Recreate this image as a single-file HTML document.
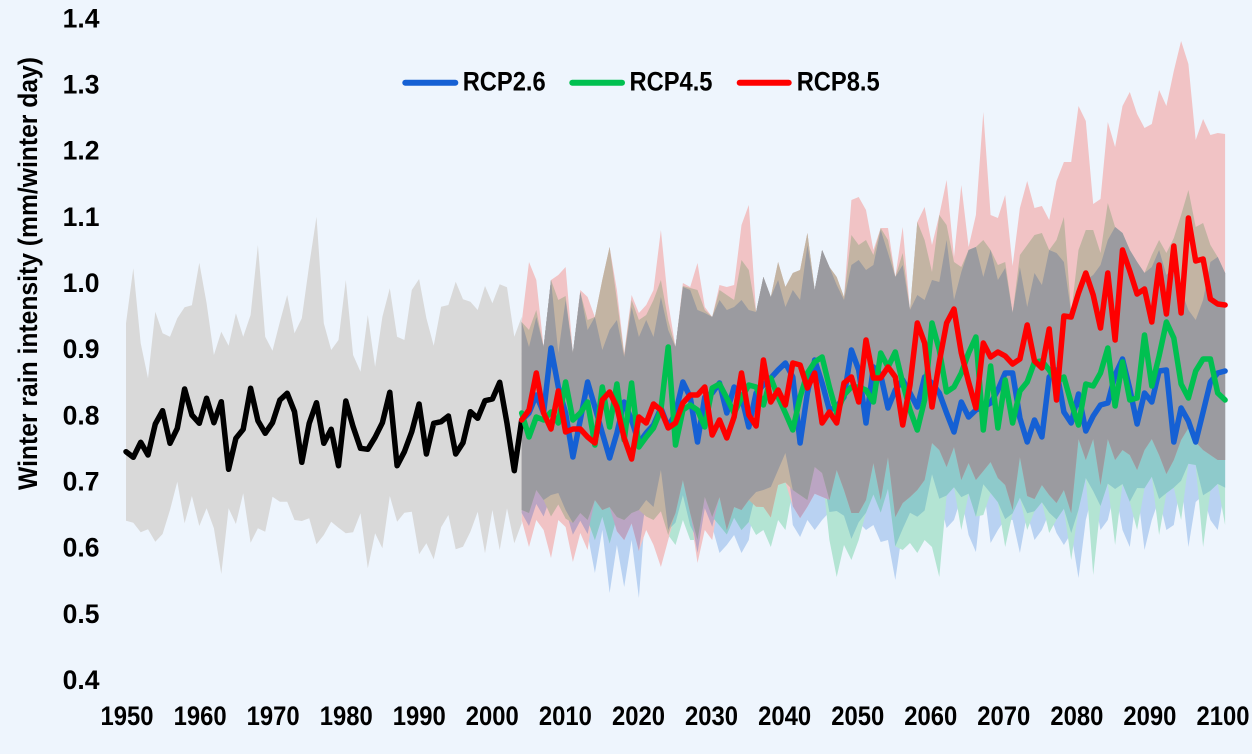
<!DOCTYPE html>
<html>
<head>
<meta charset="utf-8">
<style>
html,body{margin:0;padding:0;background:#eef5fd;overflow:hidden;}
svg{display:block;}
text{font-family:"Liberation Sans",Arial,sans-serif;font-weight:bold;fill:#000;}
</style>
</head>
<body>
<svg id="chart" width="1252" height="754" viewBox="0 0 1252 754" xmlns="http://www.w3.org/2000/svg">
<rect x="0" y="0" width="1252" height="754" fill="#eef5fd"/>
<g id="data"></g>

<!-- legend -->
<line x1="405.3" y1="82.7" x2="455.3" y2="82.7" stroke="#1560d4" stroke-width="6" stroke-linecap="round"/>
<text x="462.7" y="90.7" font-size="26.5" textLength="83" lengthAdjust="spacingAndGlyphs">RCP2.6</text>
<line x1="572.3" y1="82.7" x2="622" y2="82.7" stroke="#00c050" stroke-width="6" stroke-linecap="round"/>
<text x="629.5" y="90.7" font-size="26.5" textLength="83" lengthAdjust="spacingAndGlyphs">RCP4.5</text>
<line x1="739.7" y1="82.7" x2="788.7" y2="82.7" stroke="#ff0000" stroke-width="6" stroke-linecap="round"/>
<text x="796.7" y="90.7" font-size="26.5" textLength="83" lengthAdjust="spacingAndGlyphs">RCP8.5</text>

<!-- y tick labels -->
<g font-size="26.5" text-anchor="end">
<text x="99.5" y="27.4">1.4</text>
<text x="99.5" y="93.5">1.3</text>
<text x="99.5" y="159.7">1.2</text>
<text x="99.5" y="225.8">1.1</text>
<text x="99.5" y="292">1.0</text>
<text x="99.5" y="358.2">0.9</text>
<text x="99.5" y="424.3">0.8</text>
<text x="99.5" y="490.5">0.7</text>
<text x="99.5" y="556.6">0.6</text>
<text x="99.5" y="622.8">0.5</text>
<text x="99.5" y="689">0.4</text>
</g>

<!-- x tick labels -->
<g font-size="26.5">
<text x="100.5" y="725" textLength="53" lengthAdjust="spacingAndGlyphs">1950</text>
<text x="173.6" y="725" textLength="53" lengthAdjust="spacingAndGlyphs">1960</text>
<text x="246.6" y="725" textLength="53" lengthAdjust="spacingAndGlyphs">1970</text>
<text x="319.7" y="725" textLength="53" lengthAdjust="spacingAndGlyphs">1980</text>
<text x="392.8" y="725" textLength="53" lengthAdjust="spacingAndGlyphs">1990</text>
<text x="465.8" y="725" textLength="53" lengthAdjust="spacingAndGlyphs">2000</text>
<text x="538.9" y="725" textLength="53" lengthAdjust="spacingAndGlyphs">2010</text>
<text x="612" y="725" textLength="53" lengthAdjust="spacingAndGlyphs">2020</text>
<text x="685" y="725" textLength="53" lengthAdjust="spacingAndGlyphs">2030</text>
<text x="758.1" y="725" textLength="53" lengthAdjust="spacingAndGlyphs">2040</text>
<text x="831.2" y="725" textLength="53" lengthAdjust="spacingAndGlyphs">2050</text>
<text x="904.2" y="725" textLength="53" lengthAdjust="spacingAndGlyphs">2060</text>
<text x="977.3" y="725" textLength="53" lengthAdjust="spacingAndGlyphs">2070</text>
<text x="1050.4" y="725" textLength="53" lengthAdjust="spacingAndGlyphs">2080</text>
<text x="1123.4" y="725" textLength="53" lengthAdjust="spacingAndGlyphs">2090</text>
<text x="1196.5" y="725" textLength="53" lengthAdjust="spacingAndGlyphs">2100</text>
</g>

<!-- y axis title -->
<text transform="translate(37,273.5) rotate(-90)" font-size="27" text-anchor="middle" textLength="433" lengthAdjust="spacingAndGlyphs">Winter rain intensity (mm/winter day)</text>
</svg>

<script>
(function(){
var NS="http://www.w3.org/2000/svg";
var g=document.getElementById("data");
function add(tag,attrs){var e=document.createElementNS(NS,tag);for(var k in attrs){e.setAttribute(k,attrs[k]);}g.appendChild(e);return e;}
var X0=126,DX=7.327;
function xf(yr){return X0+(yr-1950)*DX;}
function f1(v){return Math.round(v*10)/10;}

/* ---------- historic band & line ---------- */
var hu=[370,205,430,535,335,400,410,355,322,316,188,310,465,395,437,340,410,345,135,410,452,365,285,400,355,195,50,370,450,420,240,465,515,345,500,350,265,410,420,270,237,355,437,320,315,245,298,305,330,258,310,253,262,410,350];
var hl=[962,968,997,988,1025,1002,930,845,970,888,978,925,985,1122,925,972,880,1028,985,995,890,905,905,960,963,955,1033,1005,965,983,1000,997,940,1105,1000,1045,888,965,938,935,1063,1030,1078,982,945,1048,1040,995,935,1060,930,1050,925,1030,970];
var hb=[451.7,457.3,442.3,455,424,410.7,443.3,428.3,389,415,423.3,398.3,422.7,401.7,469.3,438.3,429.3,388.3,420.7,433.3,422.7,400,393.3,411.7,462.3,423.3,402.7,443.3,429.3,465.7,401,426.7,448.3,449.3,437.3,422.7,392.3,465.7,451.7,431.7,404,454,423.3,421.7,416,454,442.7,411.7,418.3,400.7,399,382.3,423.3,470.7,420];
var p=[],i;
for(i=0;i<hu.length;i++)p.push(f1(xf(1950+i))+","+f1(200+hu[i]/3));
for(i=hl.length-1;i>=0;i--)p.push(f1(xf(1950+i))+","+f1(200+hl[i]/3));
add("polygon",{points:p.join(" "),fill:"#d9d9d9"});

/* ---------- projections ---------- */
var redLine=[420,410,373,413,429,391,432,429,429,437,443,400,392,407,438,459,417,423,404,410,428,423,403,395,395,387,435,420,438,417,373,415,426,360,402,390,405,363,365,388,373,423,412,423,383,377,402,340,378,378,367,377,425,385,323,343,407,362,323,309,353,382,408,343,357,352,356,364,359,325,361,368,329,400,316,317,293,273,295,328,273,340,250,271,294,289,322,265,314,246,313,218,261,259,299,304,305];
var blueLine=[420,413,395,413,348,387,413,457,420,382,407,433,458,433,402,420,443,433,425,408,427,413,382,397,442,397,393,383,413,387,397,427,393,385,378,370,363,377,443,393,360,383,410,407,397,350,370,423,367,375,408,390,380,393,407,377,383,393,413,432,402,417,410,407,403,390,373,373,418,442,420,437,377,370,412,423,394,431,416,405,403,375,359,389,424,393,402,371,370,442,408,421,442,412,382,373,371];
var greenLine=[413,437,417,420,412,423,382,420,413,402,445,387,427,384,440,383,447,437,428,410,347,445,410,405,410,427,388,384,398,413,398,385,387,405,378,397,413,430,397,373,362,357,387,413,395,387,387,390,402,353,367,352,383,410,430,400,323,350,392,387,373,353,337,430,366,428,380,423,391,382,362,361,370,382,377,403,425,384,386,373,348,406,362,400,398,335,386,356,322,338,384,398,371,359,359,393,400];
var redHi=[322,262,280,347,280,275,267,353,290,297,317,280,247,290,353,295,313,305,290,230,303,347,283,287,263,307,317,285,287,285,225,205,312,277,297,262,287,273,270,233,290,250,267,277,297,200,197,210,250,228,228,277,227,310,222,207,245,215,180,257,185,247,215,112,215,218,195,266,208,181,208,206,220,181,162,162,106,121,204,199,122,147,106,92,114,128,124,90,106,71,41,64,140,119,135,133,134];
var greenHi=[322,330,310,347,280,300,296,350,292,320,310,270,247,300,355,300,320,315,300,280,320,347,286,288,290,310,316,290,295,300,260,270,300,265,290,262,287,270,268,233,275,250,263,275,290,235,245,240,255,
228,240,265,253,227,207,240,272,212,225,262,267,250,247,240,250,265,262,313,255,245,235,233,250,240,217,313,250,230,230,253,203,227,233,250,262,273,255,240,253,238,215,190,227,223,245,257,273];
var blueHi=[322,347,317,347,280,353,300,350,290,330,310,350,330,320,357,307,337,320,337,297,330,347,287,290,310,313,317,300,310,307,300,310,293,275,297,280,307,290,300,245,290,250,263,285,300,265,260,270,265,
230,253,277,265,270,295,300,280,282,240,300,272,250,247,277,250,280,268,313,267,307,273,285,250,253,262,313,285,280,275,265,240,227,233,250,262,273,267,250,275,267,290,310,320,300,262,257,273];
var greyLow=[510,513,490,500,495,493,510,523,513,520,500,510,507,517,520,513,510,500,507,470,530,513,480,513,540,497,517,497,530,507,510,500,492,490,487,470,453,490,495,500,467,473,500,470,490,513,513,500,463,500,457,517,503,497,490,480,443,450,467,447,480,463,480,471,462,478,485,510,457,496,499,485,495,503,490,513,439,460,439,485,439,460,450,455,470,450,439,455,474,460,440,428,442,450,455,460,460];
var envLow=[520,547,520,530,558,520,527,562,533,550,573,530,593,545,587,540,598,530,545,567,540,545,520,540,563,530,540,553,545,535,553,540,535,530,547,520,530,525,537,520,530,520,540,577,545,560,540,530,525,542,540,580,550,543,553,540,547,577,528,520,530,535,552,515,543,530,547,520,553,530,540,530,533,533,545,560,578,520,575,530,520,545,530,547,530,550,520,535,530,525,520,547,502,547,520,530,525];
var ranges=[[2004,2007,"GBR"],[2008,2010,"BGR"],[2011,2013,"GBR"],[2014,2016,"RGB"],[2017,2020,"GRB"],[2021,2024,"BGR"],[2025,2027,"RBG"],[2028,2030,"GBR"],[2031,2035,"RGB"],[2036,2040,"BRG"],[2041,2045,"GRB"],[2046,2050,"RBG"],[2051,2055,"RGB"],[2056,2060,"RBG"]];
function pat(yr){for(var k=0;k<ranges.length;k++){if(yr>=ranges[k][0]&&yr<=ranges[k][1])return ranges[k][2];}return (yr%3==0)?"RBG":"RGB";}
var N=redLine.length;
/* enforce ordering of upper bounds: red highest, then green, then blue */
for(i=0;i<N;i++){
  greenHi[i]=Math.max(greenHi[i],redHi[i]);
  blueHi[i]=Math.max(blueHi[i],greenHi[i]);
}
var xs=[],bands={R:{t:[],b:[]},G:{t:[],b:[]},B:{t:[],b:[]}};
for(i=0;i<N;i++){
  var yr=2004+i;xs.push(xf(yr));
  var o=pat(yr),low={};
  var f=0.3+0.25*((i*37)%7)/6;
  low[o[0]]=greyLow[i];
  low[o[1]]=greyLow[i]+(envLow[i]-greyLow[i])*f;
  low[o[2]]=envLow[i];
  bands.R.t.push(redHi[i]);bands.R.b.push(low.R);
  bands.G.t.push(greenHi[i]);bands.G.b.push(low.G);
  bands.B.t.push(blueHi[i]);bands.B.b.push(low.B);
}
function inter(keys){
  var t=[],b=[];
  for(var i=0;i<N;i++){
    var tt=-1e9,bb=1e9;
    for(var k=0;k<keys.length;k++){tt=Math.max(tt,bands[keys[k]].t[i]);bb=Math.min(bb,bands[keys[k]].b[i]);}
    if(tt>bb){var m=(tt+bb)/2;tt=m;bb=m;}
    t.push(tt);b.push(bb);
  }
  return {t:t,b:b};
}
function poly(band,fill){
  var p=[];
  for(var i=0;i<N;i++)p.push(f1(xs[i])+","+f1(band.t[i]));
  for(var i=N-1;i>=0;i--)p.push(f1(xs[i])+","+f1(band.b[i]));
  add("polygon",{points:p.join(" "),fill:fill});
}
poly(bands.B,"#b9d2f2");
poly(bands.G,"#b3e4d3");
poly(bands.R,"#f1c3c5");
poly(inter(["B","G"]),"#8ecacb");
poly(inter(["B","R"]),"#bba5c3");
poly(inter(["G","R"]),"#c3b4a3");
poly(inter(["B","G","R"]),"#9b9ba0");

/* ---------- lines ---------- */
function line(xsArr,ys,color){
  var d="";
  for(var i=0;i<ys.length;i++)d+=(i?"L":"M")+f1(xsArr[i])+","+f1(ys[i]);
  add("path",{d:d,fill:"none",stroke:color,"stroke-width":"5.5","stroke-linejoin":"round","stroke-linecap":"round"});
}
var hx=[];for(i=0;i<hb.length;i++)hx.push(xf(1950+i));
line(hx,hb,"#000000");
line(xs,blueLine,"#1560d4");
line(xs,greenLine,"#00c050");
line(xs,redLine,"#ff0000");
})();
</script>
</body>
</html>
